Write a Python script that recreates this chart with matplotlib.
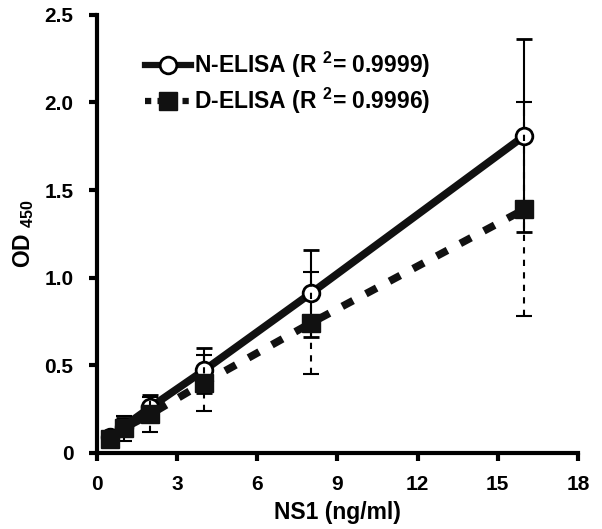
import matplotlib
matplotlib.use("Agg")
import matplotlib.pyplot as plt
from matplotlib.lines import Line2D

plt.rcParams['font.family'] = ['Liberation Sans', 'DejaVu Sans']
plt.rcParams['font.weight'] = 'bold'
plt.rcParams['mathtext.fontset'] = 'custom'
plt.rcParams['mathtext.bf'] = 'Liberation Sans:bold'
plt.rcParams['mathtext.rm'] = 'Liberation Sans:bold'
plt.rcParams['mathtext.default'] = 'bf'

conc = [0.5, 1, 2, 4, 8, 16]
n_elisa = [0.09, 0.15, 0.26, 0.47, 0.91, 1.81]
n_err = [0.03, 0.05, 0.07, 0.13, 0.25, 0.55]
d_elisa = [0.08, 0.14, 0.22, 0.40, 0.74, 1.39]
d_err = [0.04, 0.07, 0.10, 0.16, 0.29, 0.61]
x_ticks = [0, 3, 6, 9, 12, 15, 18]
y_ticks = [0, 0.5, 1.0, 1.5, 2.0, 2.5]
y_tick_labels = ['0', '0.5', '1.0', '1.5', '2.0', '2.5']
labels = [r'N-ELISA (R $^{2}$= 0.9999)', r'D-ELISA (R $^{2}$= 0.9996)']

fig = plt.figure(figsize=(6.02, 5.29), dpi=100)
ax = fig.add_axes([0.161, 0.144, 0.799, 0.828])

# N-ELISA
n = ax.errorbar(conc, n_elisa, yerr=n_err, color='#111111', lw=5.5,
                linestyle='-', marker='o', ms=12, mfc='white', mec='black',
                mew=2, ecolor='black', elinewidth=1.5, capsize=6,
                capthick=1.5, zorder=3)

# D-ELISA
d = ax.errorbar(conc, d_elisa, yerr=d_err, color='#111111', lw=5.5,
                linestyle=(0, (1.6, 1.9)), marker='s', ms=13, mfc='#111111',
                mec='#111111', ecolor='black', elinewidth=1.5, capsize=6,
                capthick=1.5, zorder=4)
d[2][0].set_linestyle((0, (3, 3)))

ax.set_xlim(0, 18)
ax.set_ylim(0, 2.5)
ax.set_xticks(x_ticks)
ax.set_yticks(y_ticks)
ax.set_yticklabels(y_tick_labels)
for s in ['top', 'right']:
    ax.spines[s].set_visible(False)
for s in ['left', 'bottom']:
    ax.spines[s].set_linewidth(3)
ax.tick_params(direction='out', length=6, width=3, labelsize=15)
ax.tick_params(axis='x', pad=10)
ax.tick_params(axis='y', pad=11)
for lab in ax.get_xticklabels() + ax.get_yticklabels():
    lab.set_fontweight('bold')

ax.set_xlabel('NS1 (ng/ml)', fontsize=16.5, fontweight='bold', labelpad=5)
ax.set_ylabel(r'OD $_{450}$', fontsize=16.5, fontweight='bold', labelpad=6)

h1 = Line2D([], [], color='#111111', lw=4.5, marker='o', ms=12, mfc='white',
            mec='black', mew=2)
h2 = Line2D([], [], color='#111111', lw=4.5, linestyle=(0, (1.0, 1.0)),
            marker='s', ms=13, mfc='#111111', mec='#111111')
leg = ax.legend([h1, h2], labels, loc='upper left', bbox_to_anchor=(0.1, 0.92),
                frameon=False, fontsize=16.5, handlelength=2.0, handletextpad=0.15,
                labelspacing=0.25, borderaxespad=0, borderpad=0)
for t in leg.get_texts():
    t.set_fontweight('bold')

fig.savefig('out.png', dpi=100)
